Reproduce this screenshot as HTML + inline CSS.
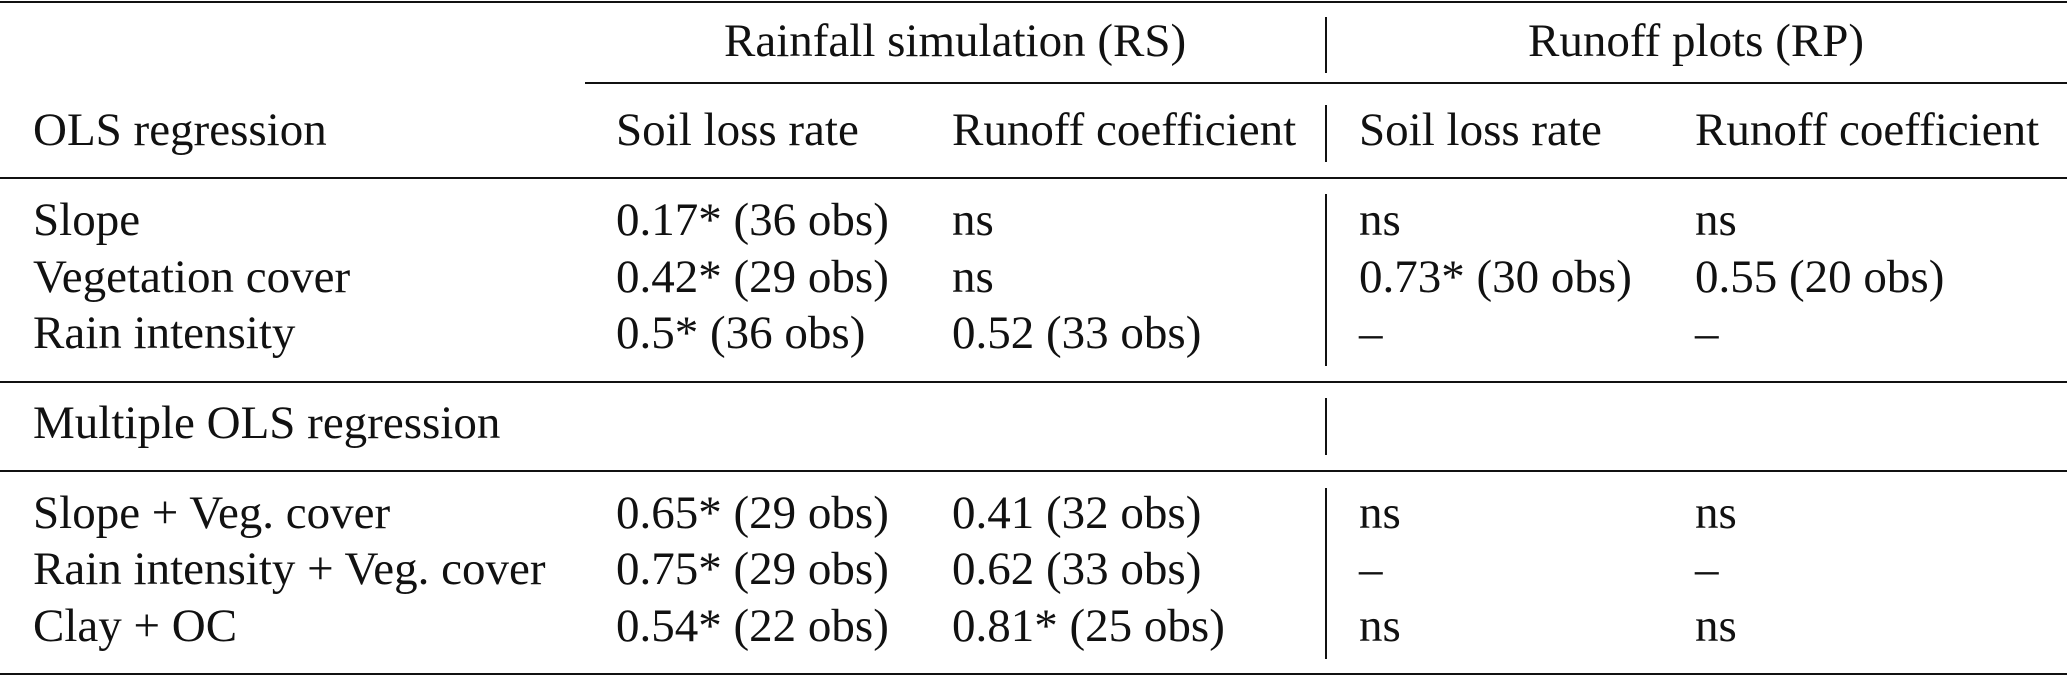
<!DOCTYPE html>
<html><head><meta charset="utf-8"><style>
body{margin:0;width:2067px;height:678px;background:#fff;position:relative;overflow:hidden;font-family:"Liberation Serif",serif;font-size:47px;color:#111}
.t{position:absolute;line-height:46px;white-space:nowrap}
.h{position:absolute;height:2px;background:#111}
.v{position:absolute;width:2px;background:#111;left:1325px}
</style></head><body>
<div class="h" style="left:0;width:2067px;top:1px"></div>
<div class="h" style="left:585px;width:1482px;top:82px"></div>
<div class="h" style="left:0;width:2067px;top:177px"></div>
<div class="h" style="left:0;width:2067px;top:381px"></div>
<div class="h" style="left:0;width:2067px;top:470px"></div>
<div class="h" style="left:0;width:2067px;top:673px"></div>
<div class="v" style="top:17px;height:56px"></div>
<div class="v" style="top:105px;height:57px"></div>
<div class="v" style="top:194px;height:172px"></div>
<div class="v" style="top:398px;height:57px"></div>
<div class="v" style="top:488px;height:171px"></div>

<div class="t" style="left:724px;top:18px">Rainfall simulation (RS)</div>
<div class="t" style="left:1528px;top:18px">Runoff plots (RP)</div>

<div class="t" style="left:33px;top:107px">OLS regression</div>
<div class="t" style="left:616px;top:107px">Soil loss rate</div>
<div class="t" style="left:952px;top:107px">Runoff coefficient</div>
<div class="t" style="left:1359px;top:107px">Soil loss rate</div>
<div class="t" style="left:1695px;top:107px">Runoff coefficient</div>

<div class="t" style="left:33px;top:197px">Slope</div>
<div class="t" style="left:616px;top:197px">0.17* (36 obs)</div>
<div class="t" style="left:952px;top:197px">ns</div>
<div class="t" style="left:1359px;top:197px">ns</div>
<div class="t" style="left:1695px;top:197px">ns</div>

<div class="t" style="left:33px;top:254px">Vegetation cover</div>
<div class="t" style="left:616px;top:254px">0.42* (29 obs)</div>
<div class="t" style="left:952px;top:254px">ns</div>
<div class="t" style="left:1359px;top:254px">0.73* (30 obs)</div>
<div class="t" style="left:1695px;top:254px">0.55 (20 obs)</div>

<div class="t" style="left:33px;top:310px">Rain intensity</div>
<div class="t" style="left:616px;top:310px">0.5* (36 obs)</div>
<div class="t" style="left:952px;top:310px">0.52 (33 obs)</div>
<div class="t" style="left:1359px;top:310px">–</div>
<div class="t" style="left:1695px;top:310px">–</div>

<div class="t" style="left:33px;top:400px">Multiple OLS regression</div>

<div class="t" style="left:33px;top:490px">Slope + Veg. cover</div>
<div class="t" style="left:616px;top:490px">0.65* (29 obs)</div>
<div class="t" style="left:952px;top:490px">0.41 (32 obs)</div>
<div class="t" style="left:1359px;top:490px">ns</div>
<div class="t" style="left:1695px;top:490px">ns</div>

<div class="t" style="left:33px;top:546px">Rain intensity + Veg. cover</div>
<div class="t" style="left:616px;top:546px">0.75* (29 obs)</div>
<div class="t" style="left:952px;top:546px">0.62 (33 obs)</div>
<div class="t" style="left:1359px;top:546px">–</div>
<div class="t" style="left:1695px;top:546px">–</div>

<div class="t" style="left:33px;top:603px">Clay + OC</div>
<div class="t" style="left:616px;top:603px">0.54* (22 obs)</div>
<div class="t" style="left:952px;top:603px">0.81* (25 obs)</div>
<div class="t" style="left:1359px;top:603px">ns</div>
<div class="t" style="left:1695px;top:603px">ns</div>
</body></html>
